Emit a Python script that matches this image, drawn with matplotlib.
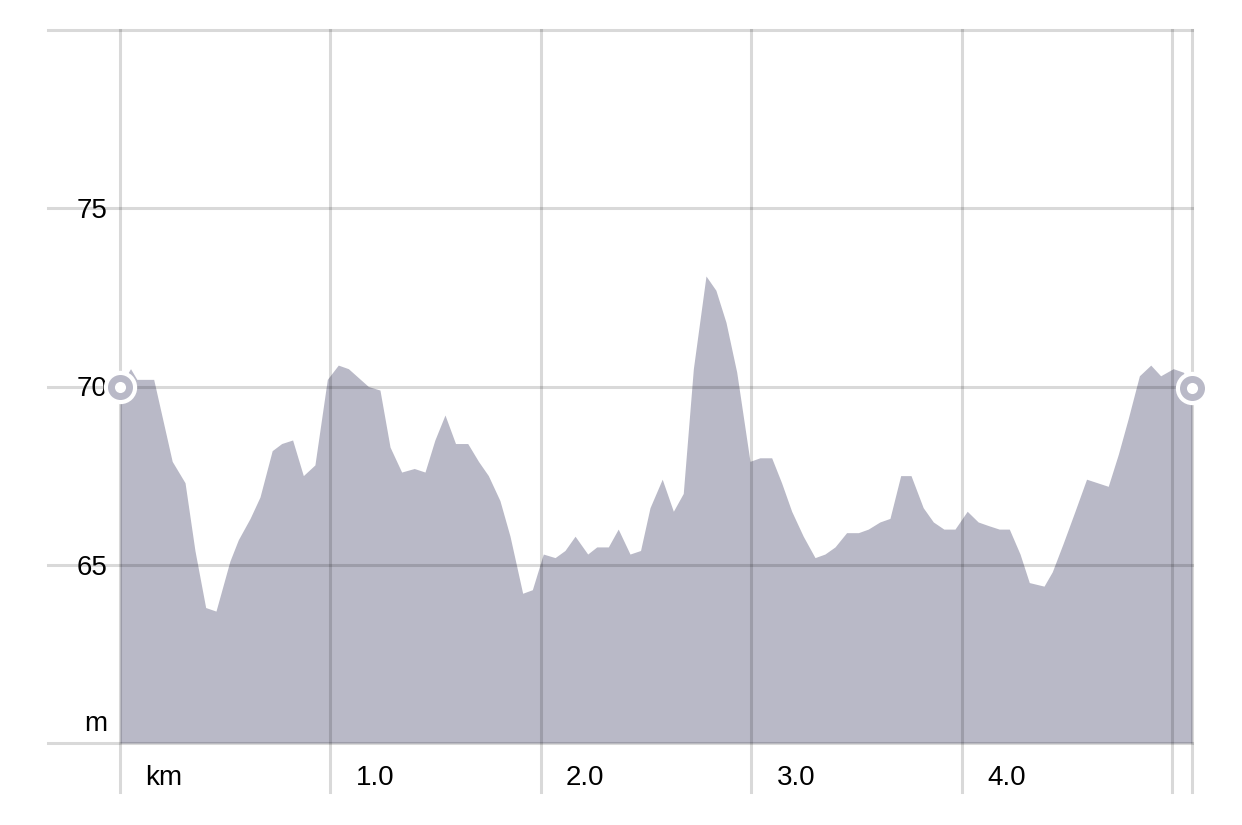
import matplotlib.pyplot as plt
import matplotlib.transforms as mtransforms

plt.rcParams['font.family'] = ['Liberation Sans', 'DejaVu Sans']

# === Elevation profile (distance in km, elevation in m) ===
dist_km = [0.000, 0.050, 0.080, 0.160, 0.248, 0.309, 0.356, 0.407, 0.456, 0.522,
           0.562, 0.618, 0.665, 0.723, 0.768, 0.820, 0.871, 0.926, 0.985, 1.037,
           1.085, 1.180, 1.235, 1.283, 1.338, 1.398, 1.449, 1.496, 1.544, 1.594,
           1.652, 1.703, 1.750, 1.805, 1.853, 1.913, 1.959, 2.011, 2.067, 2.114,
           2.162, 2.222, 2.265, 2.320, 2.367, 2.423, 2.473, 2.518, 2.576, 2.629,
           2.676, 2.724, 2.784, 2.831, 2.879, 2.930, 2.993, 3.040, 3.096, 3.143,
           3.191, 3.246, 3.302, 3.349, 3.397, 3.452, 3.508, 3.555, 3.610, 3.658,
           3.709, 3.758, 3.816, 3.864, 3.914, 3.967, 4.025, 4.077, 4.125, 4.177,
           4.225, 4.276, 4.320, 4.390, 4.429, 4.481, 4.537, 4.592, 4.695, 4.743,
           4.790, 4.843, 4.897, 4.944, 5.004, 5.052, 5.093]
elev_m = [70.0, 70.5, 70.2, 70.2, 67.9, 67.3, 65.4, 63.8, 63.7, 65.1,
          65.7, 66.3, 66.9, 68.2, 68.4, 68.5, 67.5, 67.8, 70.2, 70.6,
          70.5, 70.0, 69.9, 68.3, 67.6, 67.7, 67.6, 68.5, 69.2, 68.4,
          68.4, 67.9, 67.5, 66.8, 65.8, 64.2, 64.3, 65.3, 65.2, 65.4,
          65.8, 65.3, 65.5, 65.5, 66.0, 65.3, 65.4, 66.6, 67.4, 66.5,
          67.0, 70.5, 73.1, 72.7, 71.8, 70.4, 67.9, 68.0, 68.0, 67.3,
          66.5, 65.8, 65.2, 65.3, 65.5, 65.9, 65.9, 66.0, 66.2, 66.3,
          67.5, 67.5, 66.6, 66.2, 66.0, 66.0, 66.5, 66.2, 66.1, 66.0,
          66.0, 65.3, 64.5, 64.4, 64.8, 65.6, 66.5, 67.4, 67.2, 68.1,
          69.1, 70.3, 70.6, 70.3, 70.5, 70.4, 69.95]

y_ticks = [65, 70, 75]
y_grid = [60, 65, 70, 75, 80]
x_ticks = [0, 1, 2, 3, 4]
x_labels = ['km', '1.0', '2.0', '3.0', '4.0']
x_grid = [0, 1, 2, 3, 4, 5]

fill_color = '#b9b9c7'
grid_kw = dict(color='black', alpha=0.15, lw=2.2, zorder=3, clip_on=False)

fig = plt.figure(figsize=(12.42, 8.25), dpi=100)
ax = fig.add_axes([120 / 1242, 1 - 743 / 825, 1072 / 1242, 713 / 825])
ax.set_xlim(0, dist_km[-1])
ax.set_ylim(60, 80)
ax.set_axis_off()

ax.fill_between(dist_km, elev_m, 60, color=fill_color, lw=0, zorder=2)

# grid lines run a bit past the plot area (left and below)
for y in y_grid:
    ax.axhline(y, xmin=-72 / 1072, xmax=1, **grid_kw)
for x in x_grid + [dist_km[-1]]:
    ax.axvline(x, ymin=-49 / 713, ymax=1, **grid_kw)

# y labels, right aligned left of the plot
ytr = mtransforms.offset_copy(ax.get_yaxis_transform(), fig, x=-12, y=-10, units='dots')
for y in y_ticks:
    ax.text(0, y, str(y), transform=ytr, ha='right', va='baseline', fontsize=20, zorder=4)
mtr = mtransforms.offset_copy(ax.get_yaxis_transform(), fig, x=-13, y=12, units='dots')
ax.text(0, 60, 'm', transform=mtr, ha='right', va='baseline', fontsize=20)

# x labels, left aligned right of each grid line
xtr = mtransforms.offset_copy(ax.get_xaxis_transform(), fig, x=25, y=-42, units='dots')
for x, lab in zip(x_ticks, x_labels):
    ax.text(x, 0, lab, transform=xtr, ha='left', va='baseline', fontsize=20)

# start / end markers
ends_x = [dist_km[0], dist_km[-1]]
ends_y = [elev_m[0], elev_m[-1]]
ax.plot(ends_x, ends_y, 'o', ms=24, color='white', mew=0, zorder=6, clip_on=False)
ax.plot(ends_x, ends_y, 'o', ms=18, color=fill_color, mew=0, zorder=7, clip_on=False)
ax.plot(ends_x, ends_y, 'o', ms=8, color='white', mew=0, zorder=8, clip_on=False)

fig.savefig('out.png', dpi=100)
